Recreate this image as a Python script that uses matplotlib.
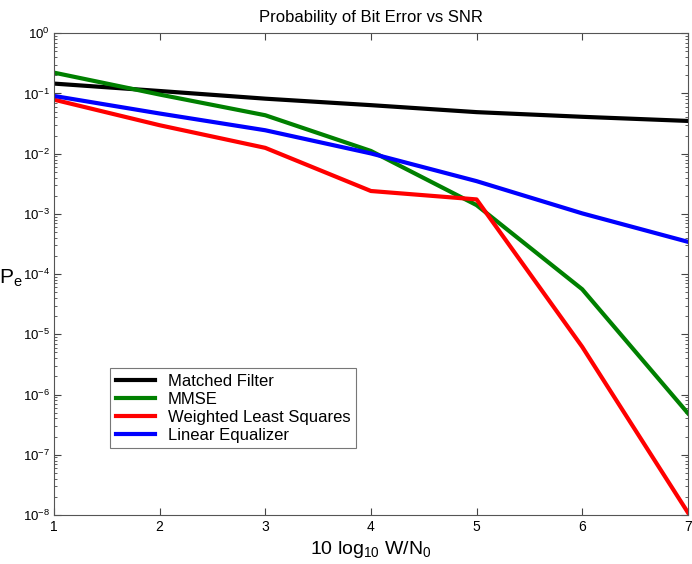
"""Probability of bit error vs SNR for four receivers."""

import matplotlib

matplotlib.use("Agg")
import matplotlib.pyplot as plt
from matplotlib.ticker import LogLocator, NullFormatter

plt.rcParams["font.family"] = ["Liberation Sans", "DejaVu Sans"]
plt.rcParams["mathtext.fontset"] = "custom"
plt.rcParams["mathtext.rm"] = "Liberation Sans"
plt.rcParams["mathtext.it"] = "Liberation Sans"

SNR_DB = [1, 2, 3, 4, 5, 6, 7]
MATCHED_FILTER = [0.146, 0.110, 0.082, 0.064, 0.049, 0.041, 0.035]
MMSE = [0.222, 0.096, 0.0435, 0.0111, 0.0014, 5.6e-5, 4.9e-7]
WEIGHTED_LS = [0.079, 0.0297, 0.0125, 0.0024, 0.00174, 6.2e-6, 1.1e-8]
LINEAR_EQ = [0.091, 0.0465, 0.0245, 0.0101, 0.0035, 0.00102, 0.000344]

SERIES = [
    ("Matched Filter", MATCHED_FILTER, "#000000"),
    ("MMSE", MMSE, "#008000"),
    ("Weighted Least Squares", WEIGHTED_LS, "#ff0000"),
    ("Linear Equalizer", LINEAR_EQ, "#0000ff"),
]
Y_EXPONENTS = list(range(-8, 1))

fig = plt.figure(figsize=(6.92, 5.64), dpi=100)
ax = fig.add_axes([0.078, 0.087, 0.916, 0.854])

for label, values, color in SERIES:
    ax.plot(SNR_DB, values, color=color, lw=3, label=label)

ax.set_yscale("log")
ax.set_xlim(1, 7)
ax.set_ylim(1e-8, 1)
ax.set_xticks(range(1, 8))
ax.yaxis.set_minor_locator(LogLocator(base=10, subs=range(2, 10), numticks=12))
ax.yaxis.set_minor_formatter(NullFormatter())
ax.set_yticks([10.0 ** k for k in Y_EXPONENTS])
ax.set_yticklabels([r"$10^{\mathrm{%s}}$" % ("-" + str(-k) if k < 0 else str(k))
                    for k in Y_EXPONENTS], fontsize=9.5)

ax.tick_params(which="both", direction="in", top=True, right=True,
               color="#444444", pad=3)
ax.tick_params(axis="x", labelsize=10, pad=4)
ax.tick_params(which="major", length=5)
ax.tick_params(which="minor", length=2.5)
for spine in ax.spines.values():
    spine.set_color("#555555")

ax.set_title("Probability of Bit Error vs SNR", fontsize=12, pad=8)
ax.set_xlabel("10 log$_{10}$ W/N$_0$", fontsize=14, labelpad=3)
ax.set_ylabel("P$_e$", fontsize=15, rotation=0, labelpad=2)
ax.yaxis.set_label_coords(-0.068, 0.47)

leg = ax.legend(loc="lower left", bbox_to_anchor=(0.089, 0.138), fontsize=12,
                frameon=True, fancybox=False, handlelength=2.3,
                borderpad=0.35, labelspacing=0.18, handletextpad=0.8,
                borderaxespad=0)
leg.get_frame().set_edgecolor("#555555")
leg.get_frame().set_linewidth(0.8)

fig.savefig("out.png", dpi=100)
